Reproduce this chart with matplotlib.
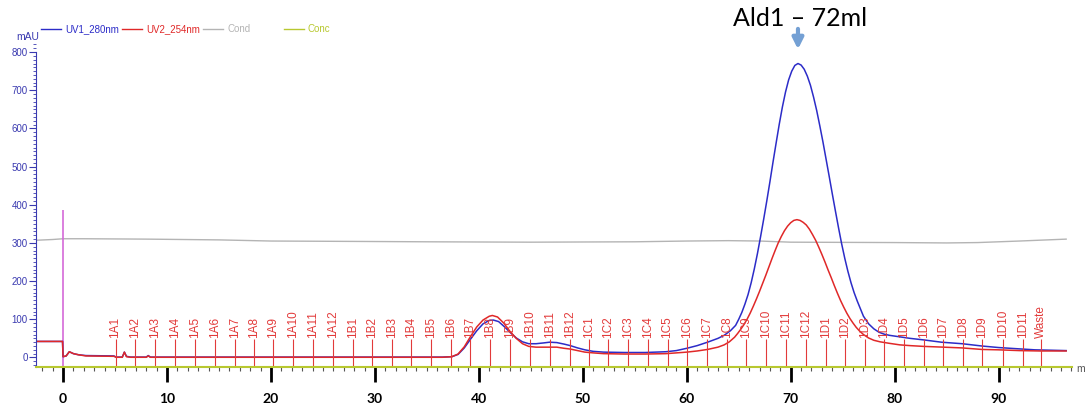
import matplotlib
matplotlib.use("Agg")
import matplotlib.pyplot as plt
from matplotlib.lines import Line2D
from matplotlib.ticker import MultipleLocator

plt.rcParams['font.family'] = ['Liberation Sans', 'DejaVu Sans']

# UV 280 nm trace (ml, mAU)
uv1_ml = [-2.6, -0.05, 0.0, 0.3, 0.6, 1.0, 1.5, 2.2, 4.9, 5.1, 5.7, 5.9, 6.1, 6.5, 8.0, 8.2, 8.4,
          36.5, 37.4, 38.0, 38.6, 39.2, 39.8, 40.4, 41.0, 41.4, 41.9, 42.4, 43.0, 43.6, 44.2, 44.8,
          45.5, 46.2, 46.8, 47.5, 48.2, 48.8, 49.5, 50.2, 51.0, 52.0, 54.0, 56.0,
          58.0, 59.0, 60.0, 61.0, 62.0, 63.0, 63.6, 64.2, 64.7, 65.0, 65.3, 65.6, 65.9,
          66.2, 66.5, 66.8, 67.1, 67.4, 67.7, 68.0, 68.3, 68.6, 68.9, 69.2, 69.5, 69.8,
          70.1, 70.4, 70.7, 71.0, 71.3, 71.6, 71.9, 72.2, 72.5, 72.8, 73.1, 73.4, 73.7,
          74.0, 74.3, 74.6, 74.9, 75.2, 75.5, 75.8, 76.1, 76.4, 76.7, 77.0, 77.5, 78.0,
          78.5, 79.0, 79.5, 80.5, 81.5, 82.8, 84.5, 86.5, 88.4, 90.0, 91.7, 93.5, 95.0, 96.5]
uv1_mau = [42, 42, 2, 4, 15, 10, 7, 5, 4, 1, 1, 14, 3, 1, 1, 5, 1,
           1, 2, 8, 25, 48, 70, 88, 97, 98, 94, 82, 66, 51, 41, 36,
           36, 38, 40, 39, 35, 31, 25, 20, 16, 14, 13, 13,
           15, 18, 24, 31, 40, 50, 58, 70, 84, 100, 118, 140, 165,
           196, 232, 272, 316, 362, 410, 460, 512, 562, 611, 656, 695, 727,
           750, 765, 770, 766, 755, 737, 713, 682, 647, 607, 565, 520, 475,
           429, 384, 340, 298, 260, 226, 196, 170, 148, 128, 108, 88, 75,
           66, 61, 58, 54, 50, 46, 40, 36, 30, 26, 23, 20, 19, 18]

# UV 254 nm trace (ml, mAU)
uv2_ml = [-2.6, -0.05, 0.0, 0.3, 0.6, 1.0, 1.5, 2.2, 4.9, 5.1, 5.7, 5.9, 6.1, 6.5, 8.0, 8.2, 8.4,
          36.5, 37.4, 38.0, 38.6, 39.2, 39.8, 40.4, 41.0, 41.3, 41.8, 42.4, 43.0, 43.6, 44.2, 44.8,
          45.5, 46.2, 46.8, 47.5, 48.2, 48.8, 49.5, 50.2, 51.0, 52.0, 54.0, 56.0,
          58.0, 59.0, 60.0, 61.0, 62.0, 63.0, 63.6, 64.1, 64.6, 64.9, 65.2, 65.5, 65.8,
          66.1, 66.4, 66.7, 67.0, 67.3, 67.6, 67.9, 68.2, 68.5, 68.8, 69.1, 69.4, 69.7,
          70.0, 70.3, 70.6, 70.9, 71.2, 71.5, 71.8, 72.1, 72.4, 72.7, 73.0, 73.3, 73.6,
          73.9, 74.2, 74.5, 74.8, 75.1, 75.4, 75.7, 76.0, 76.3, 76.6, 77.0, 77.5, 78.0,
          78.6, 79.5, 80.5, 81.5, 82.8, 84.7, 86.5, 88.4, 90.0, 92.0, 94.0, 96.5]
uv2_mau = [42, 42, 2, 4, 15, 10, 7, 4, 3, 0.5, 0.5, 14, 2, 0.5, 0.5, 4, 0.5,
           0.5, 2, 9, 28, 55, 80, 98, 108, 110, 106, 90, 68, 50, 36, 29,
           27, 27, 27, 27, 24, 22, 18, 14, 12, 10, 9, 9,
           10, 12, 14, 17, 21, 27, 33, 41, 53, 63, 74, 86, 100,
           116, 134, 153, 173, 194, 215, 237, 259, 280, 300, 317, 332, 344,
           353, 359, 361, 359, 354, 347, 336, 322, 307, 289, 270, 250, 229,
           209, 188, 168, 149, 132, 116, 102, 90, 79, 70, 60, 51, 45,
           41, 37, 33, 31, 29, 27, 25, 21, 20, 18, 17, 17]

# conductivity trace (ml, plotted on the mAU scale)
cond_ml = [-2.6, -1.0, 0.0, 2.0, 8.0, 15.0, 20.0, 28.0, 35.0, 45.0, 55.0, 60.0, 64.0, 67.0,
           70.0, 80.0, 85.0, 88.0, 92.0, 96.5]
cond_val = [307, 309, 311, 311, 310, 308, 305, 304, 303, 302, 303, 305, 306, 305,
            302, 301, 300, 301, 305, 310]

# fraction marks
frac_labels = ['1A1', '1A2', '1A3', '1A4', '1A5', '1A6', '1A7', '1A8', '1A9', '1A10', '1A11', '1A12',
               '1B1', '1B2', '1B3', '1B4', '1B5', '1B6', '1B7', '1B8', '1B9', '1B10', '1B11', '1B12',
               '1C1', '1C2', '1C3', '1C4', '1C5', '1C6', '1C7', '1C8', '1C9', '1C10', '1C11', '1C12',
               '1D1', '1D2', '1D3', '1D4', '1D5', '1D6', '1D7', '1D8', '1D9', '1D10', '1D11', 'Waste']
frac_ml = [5.05, 6.91, 8.81, 10.73, 12.66, 14.58, 16.51, 18.34, 20.19, 22.12, 24.04, 25.97,
           27.89, 29.76, 31.65, 33.51, 35.44, 37.30, 39.19, 41.12, 42.97, 44.90, 46.82, 48.75,
           50.61, 52.47, 54.36, 56.28, 58.15, 60.04, 61.96, 63.83, 65.74, 67.61, 69.54, 71.43,
           73.39, 75.25, 77.14, 79.00, 80.90, 82.82, 84.68, 86.54, 88.43, 90.39, 92.32, 94.08]

inject_ml = 0.0
inject_top = 386
peak_ml = 70.7
peak_label = 'Ald1 – 72ml'

legend_names = ['UV1_280nm', 'UV2_254nm', 'Cond', 'Conc']
legend_colors = ['#2c2cc8', '#e02828', '#b4b4b4', '#b8c830']

fig = plt.figure(figsize=(10.85, 4.05), dpi=100)
ax = fig.add_axes([0.0332, 0.0938, 0.9548, 0.7965])
ax.set_xlim(-2.6, 97.06)
ax.set_ylim(-25, 820)

ax.plot(cond_ml, cond_val, color=legend_colors[2], lw=1)
ax.vlines(inject_ml, -25, inject_top, color='#d46ad8', lw=1.2)
ax.plot(uv1_ml, uv1_mau, color=legend_colors[0], lw=1.1)
ax.plot(uv2_ml, uv2_mau, color=legend_colors[1], lw=1.1)

for lab, x in zip(frac_labels, frac_ml):
    ax.vlines(x, -25, 49, color='#e23a3a', lw=0.8)
    ax.text(x, 52, lab, rotation=90, ha='center', va='bottom', color='#e23a3a', fontsize=8.5)

# axes styling
for s in ['top', 'right']:
    ax.spines[s].set_visible(False)
ax.spines['left'].set_color('#3a3ab0')
ax.spines['left'].set_bounds(-25, 800)
ax.spines['bottom'].set_color(legend_colors[3])
ax.spines['bottom'].set_linewidth(1.5)

ax.set_yticks(range(0, 801, 100))
ax.yaxis.set_minor_locator(MultipleLocator(10))
ax.tick_params(axis='y', which='major', colors='#3a3ab0', length=5, labelsize=7, pad=1)
ax.tick_params(axis='y', which='minor', colors='#3a3ab0', length=2)

ax.set_xticks(range(0, 91, 10))
ax.xaxis.set_minor_locator(MultipleLocator(1))
ax.tick_params(axis='x', which='major', color='black', width=2, length=11, pad=8, labelsize=10)
ax.tick_params(axis='x', which='minor', color='#555555', width=0.8, length=3)
for t in ax.get_xticklabels():
    t.set_fontweight('bold')
    t.set_family('Lato')

fig.text(16 / 1085, 1 - 37 / 405, 'mAU', color='#3a3ab0', fontsize=7.5, va='center')
fig.text(1076 / 1085, 1 - 369 / 405, 'ml', fontsize=7.5, color='#555555', va='center')

# legend row
leg_x = [41, 122, 203, 284]
for name, c, x in zip(legend_names, legend_colors, leg_x):
    y = 1 - 29 / 405
    fig.add_artist(Line2D([x / 1085, (x + 20) / 1085], [y, y], color=c, lw=1))
    fig.text((x + 24) / 1085, y, name, color=c, fontsize=7, va='center')

# peak annotation
ax.annotate('', xy=(peak_ml, 800), xytext=(peak_ml, 868), annotation_clip=False,
            arrowprops=dict(arrowstyle='-|>', color='#74a0d4', lw=3, mutation_scale=16))
fig.text(800 / 1085, 1 - 19 / 405, peak_label, fontsize=18, family='Lato', ha='center', va='center')

fig.savefig('out.png', dpi=100)
